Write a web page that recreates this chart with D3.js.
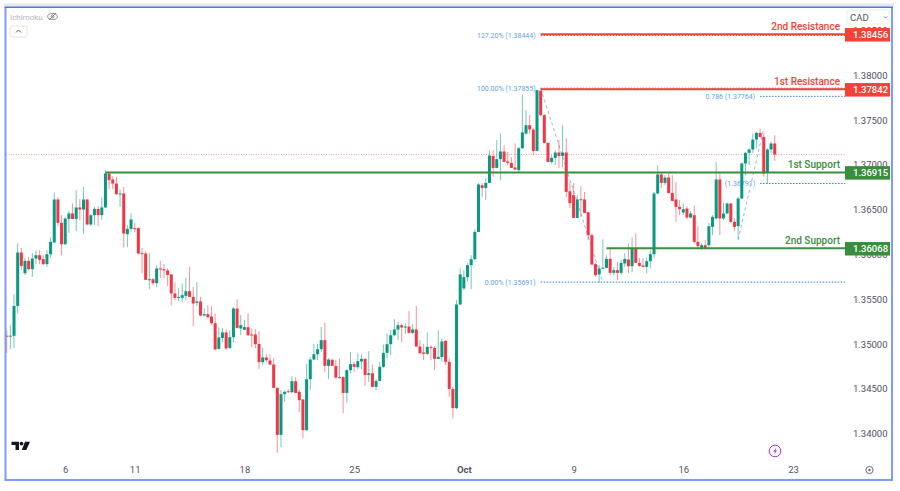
<!DOCTYPE html>
<html>
<head>
<meta charset="utf-8">
<style>
  html, body { margin: 0; padding: 0; background: #fff; }
  svg { display: block; font-family: Roboto, sans-serif; }
</style>
<script src="https://cdn.jsdelivr.net/npm/d3@7"></script>
</head>
<body>
<svg id="chart" width="900" height="491"></svg>
<script>
// 4h candles, one row per field
var opens = [
  1.35093,1.35087,1.35091,1.35425,1.36021,1.35790,1.35928,1.35835,1.35954,1.35991,1.35947,1.35891,1.36002,1.36133,1.36613,1.36352,1.36114,1.36396,1.36457,1.36396,
  1.36524,1.36501,1.36613,1.36334,1.36438,1.36508,1.36438,1.36524,1.36903,1.36836,1.36791,1.36672,1.36680,1.36226,1.36285,1.36293,1.36293,1.36014,1.36010,1.35716,
  1.35723,1.35679,1.35843,1.35835,1.35821,1.35776,1.35564,1.35515,1.35515,1.35537,1.35589,1.35526,1.35459,1.35475,1.35318,1.35333,1.35307,1.35232,1.34946,1.35068,
  1.35129,1.34957,1.35076,1.35396,1.35173,1.35158,1.35188,1.35106,1.35106,1.35001,1.34797,1.34850,1.34816,1.34771,1.34510,1.33986,1.34440,1.34473,1.34462,1.34585,
  1.34466,1.34381,1.34038,1.34607,1.34827,1.34886,1.34942,1.35043,1.34756,1.34823,1.34756,1.34630,1.34630,1.34454,1.34708,1.34775,1.34741,1.34805,1.34834,1.34655,
  1.34674,1.34521,1.34588,1.34745,1.34901,1.34998,1.35098,1.35162,1.35210,1.35184,1.35195,1.35124,1.35162,1.34972,1.34905,1.34890,1.34968,1.34957,1.34834,1.34856,
  1.35035,1.34801,1.34499,1.34284,1.35441,1.35620,1.35746,1.35880,1.35947,1.36251,1.36772,1.36742,1.36798,1.37099,1.36965,1.37063,1.37149,1.37037,1.37021,1.36970,
  1.36940,1.37185,1.37349,1.37442,1.37394,1.37155,1.37825,1.37554,1.37244,1.37032,1.37077,1.37137,1.37099,1.37137,1.36705,1.36661,1.36407,1.36616,1.36613,1.36471,
  1.36214,1.35891,1.35776,1.35846,1.35849,1.35950,1.35794,1.35824,1.35794,1.35899,1.35943,1.35868,1.36066,1.35905,1.35876,1.35861,1.35924,1.36002,1.36680,1.36892,
  1.36798,1.36858,1.36686,1.36613,1.36530,1.36468,1.36512,1.36412,1.36438,1.36140,1.36066,1.36103,1.36103,1.36307,1.36401,1.36836,1.36401,1.36457,1.36568,1.36363,
  1.36315,1.36624,1.37015,1.37133,1.37171,1.37282,1.37356,1.37311,1.36910,1.37171,1.37238
]
var highs = [
  1.35154,1.35210,1.35556,1.36125,1.36069,1.35958,1.35972,1.36014,1.36047,1.36047,1.35991,1.36047,1.36192,1.36691,1.36638,1.36438,1.36415,1.36482,1.36568,1.36717,
  1.36616,1.36753,1.36616,1.36449,1.36530,1.36538,1.36642,1.36940,1.36917,1.36873,1.36865,1.36724,1.36753,1.36326,1.36460,1.36352,1.36304,1.36069,1.36036,1.36014,
  1.35735,1.35880,1.35928,1.35891,1.35843,1.35779,1.35687,1.35623,1.35675,1.35738,1.35861,1.35637,1.35693,1.35526,1.35400,1.35433,1.35422,1.35341,1.35184,1.35177,
  1.35162,1.35154,1.35414,1.35497,1.35322,1.35266,1.35344,1.35173,1.35165,1.35143,1.34957,1.34886,1.34886,1.34842,1.34518,1.34485,1.34485,1.34496,1.34641,1.34630,
  1.34485,1.34384,1.34775,1.34853,1.35001,1.35001,1.35191,1.35240,1.34842,1.34842,1.34819,1.34838,1.34641,1.34719,1.34912,1.34801,1.34894,1.34883,1.34842,1.34920,
  1.34771,1.34607,1.34801,1.34995,1.35117,1.35154,1.35277,1.35247,1.35232,1.35232,1.35370,1.35221,1.35425,1.35043,1.35001,1.35129,1.34987,1.34976,1.35154,1.35062,
  1.35043,1.34838,1.34521,1.35489,1.35843,1.35824,1.35902,1.35991,1.36281,1.36795,1.36795,1.36851,1.37163,1.37163,1.37275,1.37349,1.37219,1.37144,1.37085,1.37238,
  1.37196,1.37785,1.37609,1.37554,1.37409,1.37840,1.37833,1.37565,1.37252,1.37107,1.37163,1.37275,1.37442,1.37294,1.36806,1.36795,1.36661,1.36761,1.36698,1.36471,
  1.36237,1.35902,1.35880,1.36166,1.35991,1.36066,1.35857,1.35916,1.35935,1.36014,1.36122,1.36189,1.36233,1.35958,1.35958,1.35958,1.36047,1.36698,1.36996,1.36921,
  1.36884,1.36903,1.36884,1.36809,1.36605,1.36568,1.36538,1.36482,1.36549,1.36315,1.36125,1.36159,1.36348,1.36438,1.37032,1.36910,1.36572,1.36577,1.36577,1.36404,
  1.36642,1.37024,1.37144,1.37185,1.37349,1.37367,1.37405,1.37349,1.37185,1.37256,1.37330
]
var lows = [
  1.34898,1.34942,1.34953,1.35344,1.35824,1.35768,1.35824,1.35749,1.35891,1.35891,1.35880,1.35861,1.35958,1.36125,1.36315,1.35991,1.36103,1.36240,1.36393,1.36259,
  1.36382,1.36226,1.36326,1.36315,1.36326,1.36315,1.36382,1.36516,1.36724,1.36728,1.36661,1.36530,1.36077,1.36080,1.36251,1.36248,1.36002,1.35790,1.35712,1.35612,
  1.35656,1.35637,1.35735,1.35735,1.35649,1.35433,1.35489,1.35478,1.35470,1.35489,1.35522,1.35202,1.35422,1.35310,1.35310,1.35288,1.35210,1.34931,1.34937,1.35020,
  1.34939,1.34942,1.35017,1.35173,1.35098,1.35154,1.35087,1.34968,1.34953,1.34719,1.34764,1.34801,1.34764,1.34507,1.33789,1.33848,1.34354,1.34451,1.34451,1.34451,
  1.34242,1.33952,1.34027,1.34485,1.34819,1.34819,1.34912,1.34689,1.34607,1.34752,1.34607,1.34619,1.34225,1.34347,1.34674,1.34689,1.34719,1.34719,1.34533,1.34577,
  1.34518,1.34485,1.34585,1.34730,1.34842,1.34875,1.35087,1.35043,1.35017,1.35117,1.35115,1.35110,1.34964,1.34886,1.34819,1.34875,1.34819,1.34708,1.34831,1.34801,
  1.34764,1.34410,1.34169,1.34273,1.35433,1.35601,1.35701,1.35612,1.35935,1.36248,1.36642,1.36605,1.36795,1.36865,1.36962,1.36828,1.37029,1.36996,1.36962,1.36940,
  1.36921,1.37174,1.37330,1.37342,1.37107,1.37152,1.37542,1.37238,1.37029,1.37015,1.36996,1.36962,1.36973,1.36638,1.36516,1.36404,1.36404,1.36419,1.36460,1.36159,
  1.35880,1.35749,1.35684,1.35843,1.35843,1.35768,1.35768,1.35712,1.35768,1.35861,1.35790,1.35805,1.35902,1.35861,1.35852,1.35790,1.35846,1.35966,1.36672,1.36739,
  1.36772,1.36680,1.36594,1.36363,1.36438,1.36438,1.36390,1.36401,1.36122,1.36077,1.36047,1.36055,1.36080,1.36214,1.36393,1.36214,1.36382,1.36449,1.36348,1.36259,
  1.36166,1.36616,1.36884,1.36996,1.37130,1.37185,1.37297,1.36865,1.36791,1.37130,1.37044
]
var closes = [
  1.35087,1.35093,1.35425,1.36021,1.35872,1.35928,1.35835,1.35954,1.35991,1.35939,1.35891,1.36002,1.36140,1.36613,1.36352,1.36114,1.36401,1.36457,1.36396,1.36524,
  1.36501,1.36613,1.36334,1.36438,1.36508,1.36438,1.36524,1.36903,1.36828,1.36791,1.36672,1.36680,1.36233,1.36285,1.36390,1.36285,1.36010,1.36008,1.35716,1.35723,
  1.35679,1.35843,1.35832,1.35821,1.35771,1.35564,1.35515,1.35526,1.35545,1.35589,1.35526,1.35452,1.35475,1.35318,1.35333,1.35299,1.35232,1.34939,1.35073,1.35129,
  1.34950,1.35076,1.35396,1.35180,1.35210,1.35188,1.35098,1.35098,1.34998,1.34797,1.34850,1.34819,1.34771,1.34510,1.33986,1.34440,1.34466,1.34462,1.34585,1.34454,
  1.34373,1.34038,1.34607,1.34827,1.34886,1.34942,1.35043,1.34756,1.34827,1.34756,1.34626,1.34622,1.34454,1.34708,1.34775,1.34745,1.34808,1.34834,1.34655,1.34674,
  1.34521,1.34588,1.34745,1.34901,1.34998,1.35098,1.35162,1.35210,1.35184,1.35195,1.35124,1.35162,1.34972,1.34898,1.34890,1.34968,1.34957,1.34834,1.34856,1.35028,
  1.34801,1.34499,1.34284,1.35441,1.35776,1.35746,1.35880,1.35947,1.36251,1.36780,1.36742,1.36798,1.37104,1.36965,1.37063,1.37149,1.37032,1.37021,1.36965,1.36948,
  1.37185,1.37361,1.37442,1.37394,1.37155,1.37833,1.37554,1.37244,1.37032,1.37077,1.37137,1.37099,1.37137,1.36698,1.36572,1.36407,1.36613,1.36605,1.36463,1.36214,
  1.35887,1.35768,1.35843,1.35852,1.35950,1.35794,1.35824,1.35794,1.35905,1.35950,1.35868,1.36066,1.35905,1.35872,1.35861,1.35924,1.36002,1.36680,1.36892,1.36798,
  1.36858,1.36686,1.36597,1.36530,1.36505,1.36505,1.36412,1.36457,1.36140,1.36092,1.36103,1.36066,1.36315,1.36419,1.36836,1.36401,1.36457,1.36568,1.36363,1.36307,
  1.36624,1.37015,1.37133,1.37171,1.37282,1.37356,1.37311,1.36903,1.37171,1.37238,1.37115
]

var priceTicks = [1.34, 1.345, 1.35, 1.355, 1.36, 1.365, 1.37, 1.375, 1.38, 1.385]
var dateTicks = [16, 35, 65, 95, 125, 155, 185, 215]
var dateLabels = ['6', '11', '18', '25', 'Oct', '9', '16', '23']

var levelNames = ['2nd Resistance', '1st Resistance', '1st Support', '2nd Support']
var levelValues = [1.38456, 1.37842, 1.36915, 1.36068]
var levelStarts = [146, 146, 27, 164]

var fibLabels = ['127.20% (1.38444)', '100.00% (1.37855)', '0.786 (1.37764)', '(1.36791)', '0.00% (1.35691)']
var fibValues = [1.38444, 1.37855, 1.37764, 1.36791, 1.35691]
var fibStarts = [146, 146, 206, 206, 146]

var lastPrice = 1.37115
// dashed swing lines: [start index, start price, end index, end price]
var swingLines = [[146, 1.37855, 163, 1.35691], [200, 1.36166, 207, 1.37405]]

// Layout
var PLOT_RIGHT = 845
var FRAME_BLUE = '#7c9cfb'
var RED = '#f23645'
var GREEN = '#089981'
var LEVEL_RED = '#f44336'
var LEVEL_GREEN = '#388e3c'
var FIB_BLUE = '#2d7fe0'
var TEXT_GREY = '#50535e'

var svg = d3.select('#chart')
var x = d3.scaleLinear().domain([0, 229]).range([6.7, 844.2])
var y = d3.scaleLinear().domain([1.34, 1.38]).range([433.6, 75.2])

svg.append('defs').append('clipPath').attr('id', 'plot')
  .append('rect').attr('x', 6).attr('y', 8).attr('width', PLOT_RIGHT - 6).attr('height', 471)

var plot = svg.append('g').attr('clip-path', 'url(#plot)')

function isLevelRed(i) { return i < 2 }

// Last price line
plot.append('line')
  .attr('x1', 6).attr('x2', PLOT_RIGHT)
  .attr('y1', y(lastPrice)).attr('y2', y(lastPrice))
  .attr('stroke', '#f7a0aa').attr('stroke-width', 1).attr('stroke-dasharray', '1,1.5')

// Fib lines and their labels
var fib = plot.append('g').selectAll('g').data(fibValues).enter().append('g')
fib.append('line')
  .attr('x1', function (d, i) { return x(fibStarts[i]) })
  .attr('x2', PLOT_RIGHT)
  .attr('y1', function (d) { return y(d) })
  .attr('y2', function (d) { return y(d) })
  .attr('stroke', FIB_BLUE).attr('stroke-width', 1).attr('stroke-dasharray', '1.5,1.5')
fib.append('text')
  .attr('x', function (d, i) { return x(fibStarts[i]) - 5 })
  .attr('y', function (d) { return y(d) + 2.5 })
  .attr('text-anchor', 'end')
  .attr('font-size', 7)
  .attr('fill', '#5f9fe8')
  .text(function (d, i) { return fibLabels[i] })

plot.append('g').selectAll('line').data(swingLines).enter().append('line')
  .attr('x1', function (d) { return x(d[0]) })
  .attr('y1', function (d) { return y(d[1]) })
  .attr('x2', function (d) { return x(d[2]) })
  .attr('y2', function (d) { return y(d[3]) })
  .attr('stroke', '#8db8f0').attr('stroke-width', 1).attr('stroke-dasharray', '3,3')

// Candles
var candles = plot.append('g').selectAll('g').data(closes).enter().append('g')
function candleColor(d, i) { return d >= opens[i] ? GREEN : RED }
candles.append('line')
  .attr('x1', function (d, i) { return x(i) })
  .attr('x2', function (d, i) { return x(i) })
  .attr('y1', function (d, i) { return y(highs[i]) })
  .attr('y2', function (d, i) { return y(lows[i]) })
  .attr('stroke', candleColor).attr('stroke-width', 1).attr('stroke-opacity', 0.55)
candles.append('rect')
  .attr('x', function (d, i) { return x(i) - 1.5 })
  .attr('width', 3)
  .attr('y', function (d, i) { return Math.min(y(opens[i]), y(d)) })
  .attr('height', function (d, i) { return Math.max(1, Math.abs(y(opens[i]) - y(d))) })
  .attr('fill', candleColor)

// Support and resistance levels
plot.append('g').selectAll('line').data(levelValues).enter().append('line')
  .attr('x1', function (d, i) { return x(levelStarts[i]) })
  .attr('x2', PLOT_RIGHT)
  .attr('y1', function (d) { return y(d) })
  .attr('y2', function (d) { return y(d) })
  .attr('stroke', function (d, i) { return isLevelRed(i) ? LEVEL_RED : LEVEL_GREEN })
  .attr('stroke-width', 2)

plot.append('g').selectAll('text').data(levelNames).enter().append('text')
  .attr('x', 840)
  .attr('y', function (d, i) { return y(levelValues[i]) - 4 })
  .attr('text-anchor', 'end')
  .attr('font-size', 10)
  .attr('font-weight', 500)
  .attr('fill', function (d, i) { return isLevelRed(i) ? LEVEL_RED : LEVEL_GREEN })
  .text(function (d) { return d })

// Axes
var yAxis = svg.append('g')
  .attr('transform', 'translate(' + PLOT_RIGHT + ',0)')
  .call(d3.axisRight(y).tickValues(priceTicks).tickSize(0).tickPadding(8).tickFormat(d3.format('.5f')))
var xAxis = svg.append('g')
  .attr('transform', 'translate(0,463)')
  .call(d3.axisBottom(x).tickValues(dateTicks).tickSize(0).tickPadding(3)
    .tickFormat(function (d, i) { return dateLabels[i] }))
yAxis.select('.domain').remove()
xAxis.select('.domain').remove()
svg.selectAll('.tick text')
  .attr('font-family', 'Roboto, sans-serif')
  .attr('font-size', 9.5)
  .attr('fill', TEXT_GREY)
xAxis.selectAll('.tick text')
  .attr('font-weight', function (d, i) { return dateLabels[i] === 'Oct' ? 700 : 400 })

// Price tags on the axis
var tags = svg.append('g').selectAll('g').data(levelValues).enter().append('g')
  .attr('transform', function (d) { return 'translate(845,' + (y(d) - 6.3) + ')' })
tags.append('rect')
  .attr('width', 45).attr('height', 13.5)
  .attr('fill', function (d, i) { return isLevelRed(i) ? LEVEL_RED : LEVEL_GREEN })
tags.append('text')
  .attr('x', 8).attr('y', 10)
  .attr('font-size', 9.5).attr('font-weight', 500)
  .attr('fill', '#fff')
  .text(d3.format('.5f'))

// Frame
svg.append('line').attr('x1', 4).attr('x2', 894).attr('y1', 5).attr('y2', 5)
  .attr('stroke', '#e6e7ee').attr('stroke-width', 3)
svg.append('path')
  .attr('d', 'M5.5,7.5V480H892V7.5')
  .attr('fill', 'none').attr('stroke', FRAME_BLUE).attr('stroke-width', 2)
svg.append('line').attr('x1', 4.5).attr('x2', 893).attr('y1', 7.2).attr('y2', 7.2)
  .attr('stroke', '#4a76e6').attr('stroke-width', 1.4)

// Currency box
svg.append('rect').attr('x', 847).attr('y', 10).attr('width', 42).attr('height', 14)
  .attr('rx', 2).attr('fill', '#fff').attr('stroke', '#eeeef2')
svg.append('text').attr('x', 850).attr('y', 20.5).attr('font-size', 9.5).attr('fill', TEXT_GREY).text('CAD')
svg.append('path').attr('d', 'M884,16.5l1.5,1.5l1.5,-1.5')
  .attr('fill', 'none').attr('stroke', TEXT_GREY).attr('stroke-width', 0.8)

// Indicator legend
svg.append('text').attr('x', 10).attr('y', 20).attr('font-size', 8).attr('fill', '#b2b5be').text('Ichimoku')
var eye = svg.append('g').attr('transform', 'translate(52.5,16.5)')
  .attr('fill', 'none').attr('stroke', '#7a7d86').attr('stroke-width', 0.9)
eye.append('ellipse').attr('rx', 4.8).attr('ry', 3)
eye.append('circle').attr('r', 1.4)
eye.append('line').attr('x1', -3.5).attr('y1', 3.5).attr('x2', 3.5).attr('y2', -3.5)
svg.append('rect').attr('x', 10).attr('y', 26).attr('width', 17).attr('height', 11)
  .attr('rx', 2).attr('fill', '#fff').attr('stroke', '#e4e5ea')
svg.append('path').attr('d', 'M16,32.5l2.5,-2.5l2.5,2.5')
  .attr('fill', 'none').attr('stroke', '#555').attr('stroke-width', 1)

// TradingView mark
var logo = svg.append('g').attr('fill', '#131722')
logo.append('path').attr('d', 'M11.5,441.7H19V450H15.5V445H11.5Z')
logo.append('circle').attr('cx', 21.5).attr('cy', 443.6).attr('r', 1.9)
logo.append('path').attr('d', 'M25,441.7H30L26.3,450H21.8Z')

// Bolt badge
svg.append('circle').attr('cx', 775).attr('cy', 451).attr('r', 5.8)
  .attr('fill', '#fff').attr('stroke', '#a13bc9').attr('stroke-width', 1)
svg.append('path').attr('d', 'M776.3,447.6L773.3,451.4H775L774,454.4L777,450.6H775.3Z').attr('fill', '#a13bc9')

// Settings button
svg.append('circle').attr('cx', 869.5).attr('cy', 470).attr('r', 3.6)
  .attr('fill', 'none').attr('stroke', '#6a6d78').attr('stroke-width', 1)
svg.append('circle').attr('cx', 869.5).attr('cy', 470).attr('r', 1.2).attr('fill', '#6a6d78')
</script>
</body>
</html>
